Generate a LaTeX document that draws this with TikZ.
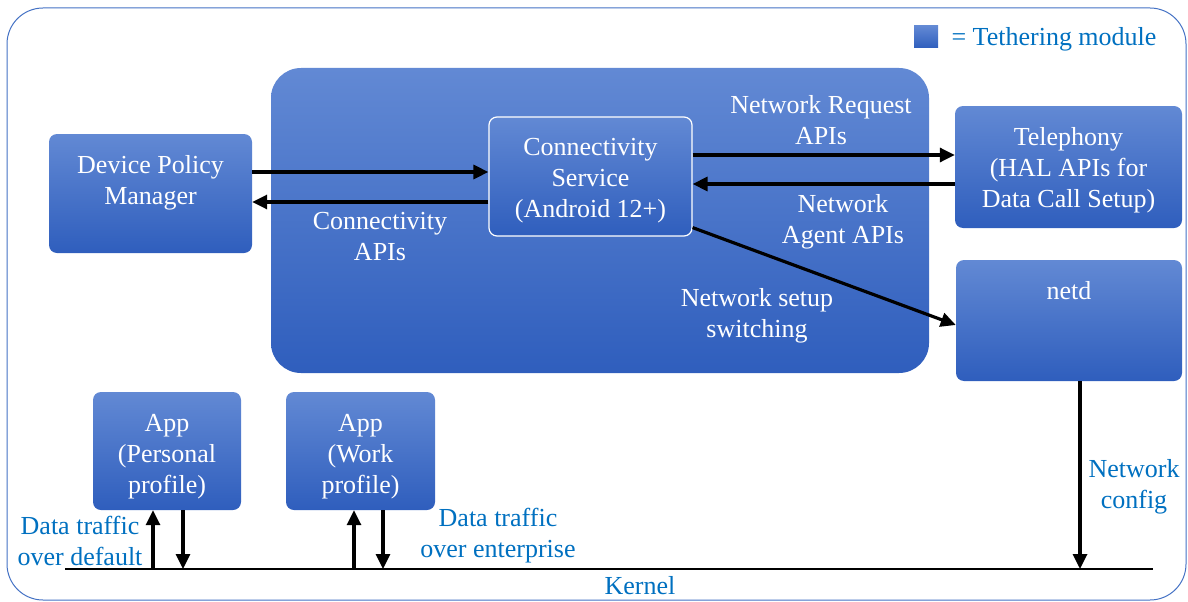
\documentclass[tikz,border=0pt]{standalone}
\usepackage{fontspec}
\setmainfont{Liberation Serif}
\usetikzlibrary{arrows.meta}
\definecolor{tethtop}{RGB}{98,137,212}
\definecolor{tethbot}{RGB}{47,94,189}
\definecolor{noteblue}{RGB}{0,112,192}
\definecolor{frameblue}{RGB}{68,114,196}

\begin{document}
\begin{tikzpicture}[x=1pt, y=-1pt,
		every node/.style={font=\fontsize{26}{31}\selectfont},
		module/.style={rectangle, rounded corners=8pt, top color=tethtop, bottom color=tethbot, text=white, align=center, inner sep=0pt},
		note/.style={align=center, text=noteblue, inner sep=0pt},
		inner/.style={align=center, text=white, inner sep=0pt},
		arr/.style={-{Triangle[length=15pt,width=14pt]}, line width=3.2pt}]
		\useasboundingbox (0,0) rectangle (1188,602);
		\draw [frameblue, line width=1pt, rounded corners=36pt] (7,8) rectangle (1186,600);
		\path (926,37) node(key) [module, rounded corners=0pt, minimum width=24pt, minimum height=22pt] {};
		\path (1054,39) node(keytext) [note] {= Tethering module};
		\path (600,220.5) node(tether) [module, rounded corners=30pt, minimum width=658pt, minimum height=305pt] {};
		\path (150.5,193.5) node(dpm) [module, minimum width=203pt, text height=70pt, text depth=49pt] {Device Policy\\Manager};
		\path (590.5,176.5) node(cs) [module, draw=white, line width=1.2pt, minimum width=203pt, text height=100pt, text depth=19pt] {Connectivity\\Service\\(Android 12+)};
		\path (1068.5,167) node(tel) [module, minimum width=227pt, text height=101pt, text depth=21pt] {Telephony\\(HAL APIs for\\Data Call Setup)};
		\path (1069,320.5) node(netd) [module, minimum width=226pt, text height=39pt, text depth=82pt] {netd};
		\path (167,451) node(pers) [module, minimum width=148pt, text height=101pt, text depth=17pt] {App\\(Personal\\profile)};
		\path (360.5,451) node(work) [module, minimum width=149pt, text height=101pt, text depth=17pt] {App\\(Work\\profile)};
		% kernel line and arrow feet
		\coordinate (kl) at (65,569);
		\coordinate (kr) at (1153,569);
		\coordinate (k1) at (153,569);
		\coordinate (k2) at (183,569);
		\coordinate (k3) at (354,569);
		\coordinate (k4) at (383,569);
		\coordinate (k5) at (1080,569);
		\draw [line width=1.4pt] (kl) -- (kr);
		\path (640,586) node(kernel) [note] {Kernel};
		% API arrows
		\draw [arr] ([yshift=21.5pt]dpm.east) -- ([yshift=4.5pt]cs.west);
		\draw [arr] ([yshift=-25.5pt]cs.west) -- ([yshift=-8.5pt]dpm.east);
		\draw [arr] ([yshift=21.5pt]cs.east) -- ([yshift=12pt]tel.west);
		\draw [arr] ([yshift=-17pt]tel.west) -- ([yshift=-7.5pt]cs.east);
		\draw [arr] ([yshift=9pt]cs.south east) -- ([yshift=-4.5pt]netd.west);
		\path (380,237) node(capi) [inner] {Connectivity\\APIs};
		\path (821,120) node(reqapi) [inner] {Network Request\\APIs};
		\path (843,222) node(agentapi) [inner] {Network\\Agent APIs};
		\path (757,316) node(setup) [inner] {Network setup\\switching};
		% traffic to the kernel
		\draw [arr] (k5 |- netd.south) -- (k5);
		\draw [arr] (k1) -- (k1 |- pers.south);
		\draw [arr] (k2 |- pers.south) -- (k2);
		\draw [arr] (k3) -- (k3 |- work.south);
		\draw [arr] (k4 |- work.south) -- (k4);
		\path (1134,487) node(cfg) [note] {Network\\config};
		\path (80,541) node(deftraffic) [note] {Data traffic\\over default};
		\path (498,536) node(enttraffic) [note] {Data traffic\\over enterprise};
	\end{tikzpicture}
\end{document}
